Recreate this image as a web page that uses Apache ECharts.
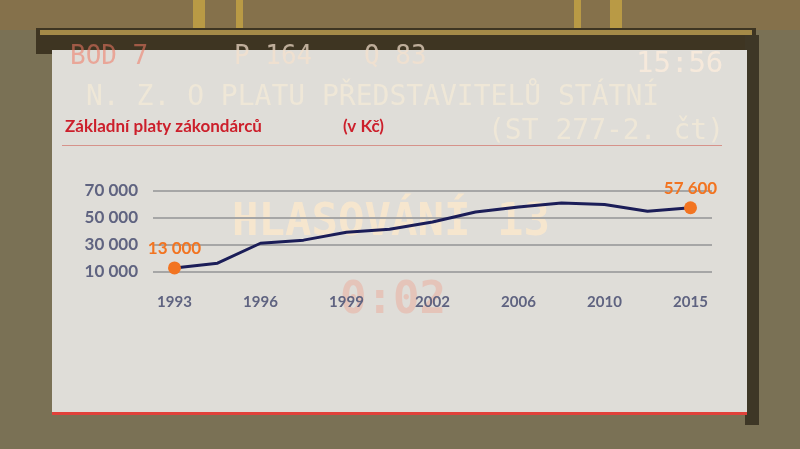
<!DOCTYPE html>
<html>
<head>
<meta charset="utf-8">
<script src="https://cdn.jsdelivr.net/npm/echarts@6/dist/echarts.min.js"></script>
<style>html,body{margin:0;padding:0;background:#7a7155;}#c{width:800px;height:449px;}</style>
</head>
<body>
<div id="c"></div>
<script>
const years = ['1993','1995','1996','1998','1999','2000','2002','2004','2006','2008','2010','2013','2015'];
const salaries = [13000, 16500, 31300, 33600, 39500, 41700, 47000, 54400, 58100, 61100, 60000, 55000, 57600];
const titleText = 'Základní platy zákondárců';
const unitText = '(v Kč)';
const yTicks = [10000, 30000, 50000, 70000];

function fmt(v){ return String(v).replace(/\B(?=(\d{3})+(?!\d))/g, ' '); }

const FONT = 'Lato, "Open Sans", sans-serif';
const LED = '"DejaVu Sans Mono", monospace';

const seriesData = salaries.map((v, i) => {
  if (i === 0 || i === salaries.length - 1) {
    return {
      value: v,
      symbol: 'circle', symbolSize: 13,
      itemStyle: {color: '#f27421'},
      label: {show: true, position: 'top', distance: 4,
              formatter: p => fmt(p.value), color: '#f27421', fontSize: 17, fontFamily: FONT, fontWeight: 'bold'}
    };
  }
  return {value: v, symbol: 'none'};
});

const chart = echarts.init(document.getElementById('c'), null, {renderer: 'canvas'});
chart.setOption({
  backgroundColor: '#7a7155',
  animation: false,
  graphic: [
    // photo background pieces
    {type: 'rect', z: -20, shape: {x: 0, y: 0, width: 800, height: 30}, style: {fill: '#85714b'}},
    {type: 'rect', z: -19, shape: {x: 193, y: 0, width: 12, height: 30}, style: {fill: '#b99a45'}},
    {type: 'rect', z: -19, shape: {x: 236, y: 0, width: 7, height: 30}, style: {fill: '#b99a45'}},
    {type: 'rect', z: -19, shape: {x: 574, y: 0, width: 7, height: 30}, style: {fill: '#b99a45'}},
    {type: 'rect', z: -19, shape: {x: 610, y: 0, width: 12, height: 30}, style: {fill: '#b99a45'}},
    {type: 'rect', z: -18, shape: {x: 36, y: 28, width: 720, height: 26}, style: {fill: '#3e3522'}},
    {type: 'rect', z: -18, shape: {x: 40, y: 30, width: 712, height: 5}, style: {fill: '#a48a48'}},
    {type: 'rect', z: -18, shape: {x: 745, y: 35, width: 14, height: 390}, style: {fill: '#3e3726'}},
    {type: 'rect', z: -17, shape: {x: 52, y: 50, width: 695, height: 364}, style: {fill: '#dfddd8'}},
    {type: 'rect', z: -16, shape: {x: 52, y: 412, width: 695, height: 3}, style: {fill: '#e0413a'}},
    {type: 'rect', z: -16, shape: {x: 62, y: 145, width: 660, height: 1}, style: {fill: '#d6928a'}},
    // faint display text
    {type: 'text', z: -15, left: 70, top: 44, style: {text: 'BOD 7', fill: 'rgba(240,120,100,0.55)', font: '26px ' + LED}},
    {type: 'text', z: -15, left: 234, top: 44, style: {text: 'P 164', fill: 'rgba(245,225,205,0.7)', font: '26px ' + LED}},
    {type: 'text', z: -15, left: 364, top: 44, style: {text: 'Q 83', fill: 'rgba(245,225,205,0.7)', font: '26px ' + LED}},
    {type: 'text', z: -15, left: 636, top: 50, style: {text: '15:56', fill: 'rgba(250,235,220,0.85)', font: '29px ' + LED}},
    {type: 'text', z: -15, left: 86, top: 84, style: {text: 'N. Z. O PLATU PŘEDSTAVITELŮ STÁTNÍ', fill: 'rgba(245,235,215,0.7)', font: '28px ' + LED}},
    {type: 'text', z: -15, left: 488, top: 118, style: {text: '(ST 277-2. čt)', fill: 'rgba(245,235,215,0.7)', font: '28px ' + LED}},
    {type: 'text', z: -15, left: 232, top: 202, style: {text: 'HLASOVÁNÍ 13', fill: 'rgba(250,232,205,0.85)', font: 'bold 44px ' + LED}},
    {type: 'text', z: -15, left: 340, top: 280, style: {text: '0:02', fill: 'rgba(240,150,130,0.35)', font: 'bold 44px ' + LED}},
    // chart title
    {type: 'text', z: 5, left: 65, top: 118, style: {text: titleText, fill: '#cc1f2b', font: 'bold 17px ' + FONT}},
    {type: 'text', z: 5, left: 343, top: 118, style: {text: unitText, fill: '#cc1f2b', font: 'bold 17px ' + FONT}}
  ],
  grid: {left: 153, right: 88, top: 191, bottom: 177},
  xAxis: {
    type: 'category', data: years, boundaryGap: true,
    axisLine: {show: false}, axisTick: {show: false},
    axisLabel: {interval: 1, color: '#5f6380', fontSize: 15, fontFamily: FONT, fontWeight: 'bold', margin: 23}
  },
  yAxis: {
    type: 'value', min: 10000, max: 70000, interval: 10000,
    axisLine: {show: false}, axisTick: {show: false},
    axisLabel: {color: '#5f6380', fontSize: 17, fontFamily: FONT, fontWeight: 'bold', margin: 15,
      formatter: v => yTicks.indexOf(v) >= 0 ? fmt(v) : ''},
    splitLine: {show: true, lineStyle: {color: ['#a6a6a6', 'rgba(0,0,0,0)'], width: 2}}
  },
  series: [{
    type: 'line', data: seriesData, showSymbol: true,
    lineStyle: {color: '#1b1d58', width: 3},
    itemStyle: {color: '#1b1d58'}
  }]
});
</script>
</body>
</html>
